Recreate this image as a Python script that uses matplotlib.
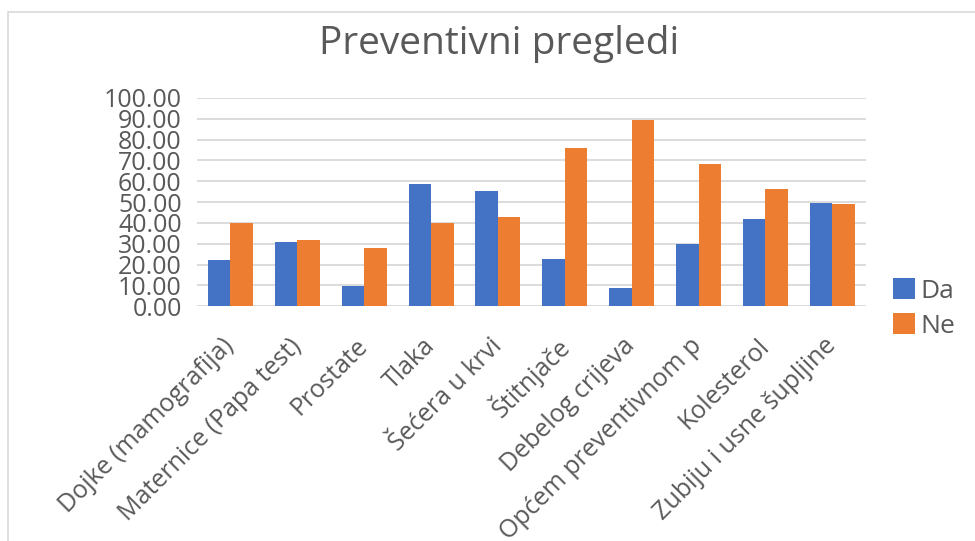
import numpy as np
import matplotlib.pyplot as plt
from matplotlib.patches import Rectangle

categories = ['Dojke (mamografija)', 'Maternice (Papa test)', 'Prostate', 'Tlaka',
              'Šećera u krvi', 'Štitnjače', 'Debelog crijeva', 'Općem preventivnom p',
              'Kolesterol', 'Zubiju i usne šupljine']
da = [22.0, 31.0, 9.6, 58.5, 55.3, 22.5, 8.8, 30.0, 41.9, 49.7]
ne = [39.8, 31.6, 27.8, 39.8, 42.8, 76.0, 89.5, 68.2, 56.5, 48.9]

plt.rcParams['font.family'] = ['Open Sans', 'DejaVu Sans']
grey = '#595959'

fig = plt.figure(figsize=(9.75, 5.41), dpi=100)
fig.patches.append(Rectangle((8 / 975, -0.05), 1.1, 1 - 12 / 541 + 0.05,
                             transform=fig.transFigure, fill=False,
                             edgecolor='#D9D9D9', linewidth=1.2))

ax = fig.add_axes([0.202, 0.434, 0.686, 0.385])
x = np.arange(len(categories))
w = 0.336
ax.bar(x - w / 2, da, w, color='#4472C4', label='Da', zorder=3)
ax.bar(x + w / 2, ne, w, color='#ED7D31', label='Ne', zorder=3)

ax.set_xlim(-0.5, len(categories) - 0.5)
ax.set_ylim(0, 100)
ax.set_yticks(np.arange(0, 101, 10))
ax.set_yticklabels([f'{v:.2f}' for v in range(0, 101, 10)])
ax.yaxis.grid(True, color='#D9D9D9', linewidth=1.3, zorder=0)
for s in ax.spines.values():
    s.set_visible(False)
ax.tick_params(axis='both', length=0, labelsize=18, colors=grey)
ax.tick_params(axis='y', pad=11)
ax.set_xticks(x)
ax.set_xticklabels(categories, rotation=45, ha='right', va='center',
                   rotation_mode='anchor')
ax.tick_params(axis='x', pad=26)

fig.text(0.512, 0.918, 'Preventivni pregledi', ha='center', va='center',
         fontsize=28, color=grey)

ax.legend(loc='center left', bbox_to_anchor=(1.005, -0.01), frameon=False,
          fontsize=19, labelcolor=grey, handlelength=0.85, handleheight=0.85,
          handletextpad=0.2, labelspacing=0.35)

fig.savefig('out.png', dpi=100)
